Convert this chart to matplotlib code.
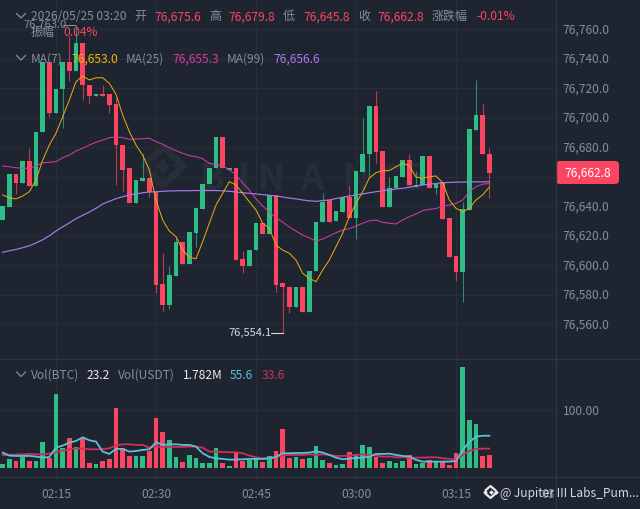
import matplotlib
matplotlib.use('Agg')
import matplotlib.pyplot as plt
from matplotlib.lines import Line2D
from matplotlib.patches import FancyBboxPatch

plt.rcParams['font.family'] = ['Noto Sans CJK SC', 'DejaVu Sans']

opens = [76630.6, 76639.6, 76661.8, 76655.9, 76670.6, 76653.7, 76690.3, 76737.9, 76703.4, 76719.5,
         76737.9, 76731.7, 76750.8, 76722.2, 76714.8, 76716.1, 76716.1, 76709.3, 76681.7, 76665.7,
         76642.1, 76656.9, 76659.1, 76649.8, 76587.1, 76572.8, 76592.5, 76615.6, 76600.9, 76622.0,
         76638.0, 76655.0, 76665.7, 76686.7, 76664.5, 76665.9, 76604.3, 76599.3, 76610.0, 76628.5,
         76621.1, 76647.5, 76587.8, 76585.3, 76571.3, 76584.9, 76568.1, 76596.0, 76629.0, 76643.9,
         76629.9, 76636.2, 76646.4, 76632.0, 76663.4, 76675.4, 76708.2, 76677.4, 76639.6, 76652.0,
         76660.0, 76671.3, 76653.2, 76654.4, 76674.2, 76652.1, 76656.6, 76631.7, 76606.1, 76595.5,
         76637.3, 76691.7, 76701.9, 76675.6]
highs = [76640.3, 76661.8, 76661.8, 76670.6, 76679.5, 76690.3, 76737.9, 76737.9, 76719.5, 76737.9,
         76755.5, 76763.0, 76750.8, 76722.2, 76716.1, 76722.2, 76716.1, 76714.1, 76681.7, 76665.7,
         76657.7, 76675.4, 76659.1, 76649.8, 76608.2, 76599.3, 76618.3, 76615.6, 76622.4, 76638.7,
         76655.0, 76665.7, 76686.7, 76686.7, 76665.9, 76665.9, 76609.5, 76610.2, 76628.5, 76628.5,
         76647.5, 76647.5, 76588.7, 76585.3, 76584.9, 76584.9, 76596.1, 76629.4, 76648.9, 76643.9,
         76636.9, 76646.0, 76653.7, 76663.8, 76699.6, 76708.2, 76718.4, 76677.4, 76659.8, 76660.4,
         76671.3, 76675.4, 76663.9, 76674.2, 76674.2, 76655.0, 76656.6, 76631.7, 76606.1, 76643.0,
         76692.4, 76725.6, 76709.1, 76679.8]
lows = [76630.6, 76639.6, 76648.2, 76655.9, 76653.7, 76653.7, 76690.3, 76700.5, 76703.4, 76693.2,
        76725.0, 76731.7, 76712.1, 76710.0, 76714.8, 76714.8, 76703.2, 76654.3, 76650.5, 76642.3,
        76642.1, 76656.9, 76646.2, 76581.2, 76569.0, 76570.1, 76592.5, 76600.9, 76600.9, 76612.4,
        76638.0, 76655.0, 76665.7, 76665.9, 76664.5, 76603.4, 76594.8, 76599.3, 76610.0, 76621.1,
        76621.1, 76581.9, 76554.1, 76567.6, 76571.3, 76568.1, 76568.1, 76596.0, 76629.0, 76629.5,
        76629.9, 76636.2, 76631.9, 76617.7, 76663.4, 76660.0, 76669.3, 76639.6, 76639.6, 76652.0,
        76660.0, 76654.3, 76653.2, 76654.4, 76652.1, 76648.2, 76631.0, 76605.2, 76589.3, 76575.1,
        76637.3, 76691.7, 76675.4, 76645.8]
closes = [76640.3, 76661.8, 76655.9, 76670.6, 76653.7, 76690.3, 76737.9, 76703.4, 76719.5, 76737.9,
          76731.7, 76750.8, 76722.2, 76714.8, 76716.1, 76714.8, 76708.7, 76681.3, 76664.5, 76642.3,
          76657.7, 76659.1, 76649.8, 76586.4, 76572.8, 76593.0, 76615.6, 76600.9, 76622.4, 76638.7,
          76655.0, 76665.7, 76686.7, 76665.9, 76665.9, 76603.4, 76599.3, 76610.2, 76628.5, 76621.1,
          76647.5, 76586.4, 76584.9, 76571.3, 76584.9, 76568.1, 76596.1, 76629.4, 76643.0, 76629.5,
          76636.9, 76646.0, 76631.9, 76663.8, 76675.4, 76708.2, 76676.9, 76639.6, 76652.5, 76660.4,
          76671.3, 76654.3, 76654.4, 76674.2, 76652.1, 76655.0, 76631.0, 76605.2, 76595.5, 76637.8,
          76692.4, 76701.9, 76675.4, 76662.8]

ma7 = [76647.6, 76645.7, 76644.9, 76646.9, 76649.8, 76657.8, 76671.3, 76681.5, 76689.5, 76700.7,
       76712.1, 76724.5, 76728.4, 76725.7, 76727.2, 76727.2, 76723.4, 76716.0, 76701.9, 76690.6,
       76681.5, 76674.7, 76664.6, 76644.2, 76630.6, 76623.1, 76619.3, 76610.2, 76605.3, 76604.3,
       76615.9, 76628.4, 76640.8, 76648.7, 76656.6, 76654.4, 76648.7, 76643.0, 76637.4, 76628.4,
       76625.0, 76613.6, 76610.2, 76608.0, 76603.4, 76594.4, 76591.0, 76588.7, 76596.6, 76603.4,
       76612.5, 76621.6, 76632.8, 76641.9, 76649.8, 76659.1, 76662.7, 76664.1, 76664.1, 76666.8,
       76669.1, 76667.5, 76659.8, 76658.9, 76660.0, 76660.5, 76655.9, 76644.2, 76638.5, 76636.2,
       76638.5, 76644.2, 76647.6, 76653.0]
ma25 = [76667.3, 76666.8, 76666.1, 76665.7, 76665.7, 76667.3, 76669.5, 76669.8, 76670.2, 76672.9,
        76674.7, 76677.5, 76679.3, 76681.5, 76683.4, 76684.9, 76686.5, 76687.0, 76686.5, 76685.4,
        76685.6, 76685.8, 76686.1, 76683.8, 76682.0, 76679.7, 76677.7, 76675.9, 76674.3, 76673.6,
        76672.2, 76669.1, 76668.4, 76667.5, 76664.6, 76661.2, 76655.7, 76651.0, 76644.9, 76640.1,
        76636.0, 76632.0, 76629.2, 76625.8, 76623.1, 76620.4, 76618.4, 76616.3, 76617.7, 76619.7,
        76622.0, 76623.8, 76624.7, 76626.5, 76628.4, 76630.1, 76630.6, 76629.0, 76628.4, 76627.9,
        76630.6, 76632.8, 76634.7, 76636.9, 76637.9, 76638.3, 76640.1, 76640.8, 76641.9, 76644.2,
        76649.8, 76653.2, 76655.0, 76655.3]
ma99 = [76608.7, 76609.7, 76610.6, 76611.8, 76613.1, 76615.0, 76617.2, 76619.9, 76623.1, 76626.0,
        76628.6, 76631.5, 76633.8, 76636.0, 76638.5, 76641.5, 76643.3, 76645.1, 76646.4, 76647.6,
        76648.3, 76649.1, 76649.6, 76649.8, 76650.1, 76650.3, 76650.4, 76650.5, 76650.5, 76650.6,
        76650.6, 76650.6, 76650.6, 76650.4, 76650.1, 76649.6, 76649.1, 76648.7, 76648.3, 76647.8,
        76647.4, 76646.9, 76646.2, 76645.5, 76644.9, 76644.2, 76643.6, 76643.3, 76643.8, 76644.2,
        76645.2, 76646.0, 76646.9, 76647.6, 76648.3, 76649.1, 76649.8, 76650.5, 76651.0, 76651.7,
        76652.1, 76652.9, 76653.7, 76654.4, 76654.9, 76655.4, 76655.9, 76656.1, 76656.3, 76656.4,
        76656.4, 76656.5, 76656.5, 76656.6]

volumes = [7.4, 16.0, 12.5, 20.0, 12.5, 13.1, 45.6, 18.2, 126.5, 34.2,
           51.9, 37.0, 51.3, 8.6, 7.4, 12.5, 16.0, 103.2, 35.3, 21.0,
           21.0, 21.0, 29.6, 86.0, 62.7, 49.0, 20.0, 10.3, 22.2, 17.7,
           9.7, 8.6, 34.2, 9.7, 3.4, 27.4, 12.5, 14.3, 16.0, 11.4,
           21.0, 29.6, 67.3, 18.2, 20.0, 15.4, 18.2, 38.2, 14.3, 8.6,
           5.7, 7.4, 27.4, 23.9, 39.9, 36.5, 20.0, 9.7, 13.1, 9.1,
           12.0, 22.8, 7.4, 9.1, 13.7, 11.4, 10.3, 5.7, 26.8, 172.7,
           82.7, 75.8, 21.7, 23.2]
vol_ma_fast = [26.8, 21.7, 21.1, 21.1, 21.1, 20.0, 18.2, 19.4, 35.3, 38.8,
               43.9, 46.7, 53.0, 47.9, 45.6, 28.5, 24.5, 33.1, 33.1, 28.5,
               29.6, 31.4, 32.5, 44.5, 39.9, 41.0, 41.0, 39.9, 39.9, 37.0,
               25.7, 19.4, 17.1, 16.0, 14.8, 14.8, 15.4, 16.0, 16.0, 16.0,
               17.1, 19.4, 25.7, 25.7, 26.2, 26.2, 26.8, 29.1, 26.8, 22.8,
               18.2, 15.4, 16.5, 17.7, 18.2, 20.0, 24.5, 24.5, 25.1, 22.8,
               21.1, 20.0, 14.3, 11.4, 11.4, 11.4, 11.4, 11.4, 12.5, 31.4,
               44.5, 54.2, 55.6, 55.6]
vol_ma_slow = [22.8, 22.8, 23.4, 23.9, 24.5, 23.9, 23.9, 25.1, 27.4, 30.2,
               32.5, 34.2, 33.6, 32.5, 32.5, 32.5, 34.2, 38.8, 41.0, 41.0,
               39.9, 39.9, 35.3, 37.0, 36.5, 36.5, 36.5, 36.5, 37.0, 37.0,
               35.3, 28.5, 28.5, 27.9, 27.4, 27.4, 25.7, 21.7, 18.8, 17.1,
               17.1, 18.8, 21.7, 22.8, 22.8, 22.8, 23.9, 22.8, 23.9, 22.8,
               21.1, 21.1, 21.7, 22.8, 23.9, 22.8, 21.7, 20.0, 20.0, 18.8,
               18.8, 18.2, 18.2, 18.2, 18.8, 18.8, 17.1, 16.0, 14.3, 22.8,
               29.6, 33.1, 33.6, 33.6]

price_ticks = [76560, 76580, 76600, 76620, 76640, 76680, 76700, 76720, 76740, 76760]
grid_prices = [76560, 76580, 76600, 76620, 76640, 76660, 76680, 76700, 76720, 76740, 76760]
time_pos = [8, 23, 38, 53, 68, 83]
time_labels = ['02:15', '02:30', '02:45', '03:00', '03:15', '03:30']
last_price = 76662.8

BG = '#1f2530'
GRID = '#272e39'
SEP = '#2e3641'
GRAY = '#848e9c'
RED = '#fb4561'
GREEN = '#2ebd85'
MARK = '#272e3a'
W, H = 640, 509


def px_axes(x0, y0, x1, y1):
    a = fig.add_axes([x0 / W, 1 - y1 / H, (x1 - x0) / W, (y1 - y0) / H])
    a.set_facecolor(BG)
    for s in a.spines.values():
        s.set_visible(False)
    a.tick_params(left=False, bottom=False, labelleft=False, labelbottom=False)
    a.set_xlim(-0.4, 82.85)
    return a


def label(x, y, s, color=GRAY, size=8.64, **kw):
    return fig.text(x / W, 1 - (y + 0.7) / H, s, color=color, fontsize=size, va='center', **kw)


def chevron(x, y):
    fig.add_artist(Line2D([x / W, (x + 4.5) / W, (x + 9) / W],
                          [1 - (y - 2.5) / H, 1 - (y + 2) / H, 1 - (y - 2.5) / H],
                          color=GRAY, lw=0.9))


def logo(cx, cy, r, color, lw, target, zorder):
    # the binance mark: centre and side diamonds, chevrons above and below
    def fx(v):
        return (cx + v * r) / W

    def fy(v):
        return 1 - (cy + v * r) / H

    kw = dict(transform=fig.transFigure, color=color, zorder=zorder, clip_on=False)
    for dx in (-1, 0, 1):
        target.add_artist(Line2D([fx(dx * 0.85)], [fy(0)], marker='D', ms=lw * 1.5, mew=0, ls='none', **kw))
    for s in (-1, 1):
        target.add_artist(Line2D([fx(-0.72), fx(0), fx(0.72)],
                                 [fy(s * 0.3), fy(s * 0.92), fy(s * 0.3)], lw=lw, **kw))


fig = plt.figure(figsize=(W / 100, H / 100), dpi=100, facecolor=BG)

ax = px_axes(0, 0, 555, 358)
ax.set_ylim(76780 - 0.6791 * 358, 76780)
ax_vol = px_axes(0, 358, 555, 477)
ax_vol.set_ylim(-14.9, 188.5)
ax_time = px_axes(0, 477, 555, 509)
ax_time.set_ylim(0, 1)

for a in (ax, ax_vol):
    for t in time_pos:
        a.axvline(t, color=GRID, lw=1, zorder=0)
for p in grid_prices:
    ax.axhline(p, color=GRID, lw=1, zorder=0)
ax_vol.axhline(100, color=GRID, lw=1, zorder=0)

# watermark, letters are spaced wide in the original
for x, s in [(200, 'B'), (238, 'I'), (258, 'N'), (300, 'A'), (343, 'N'), (378, 'C'), (403, 'E')]:
    ax.text(x / W, 1 - 180 / H, s, color=MARK, fontsize=26, fontweight='bold', va='center',
            transform=fig.transFigure, zorder=1)
logo(163, 166, 20, MARK, 5.0, ax, 1)

xs = list(range(len(opens)))
colors = [GREEN if c >= o else RED for o, c in zip(opens, closes)]

ax.vlines(xs, lows, highs, colors=colors, lw=0.8, alpha=0.7, zorder=2)
ax.bar(xs, [abs(c - o) for o, c in zip(opens, closes)],
       bottom=[min(o, c) for o, c in zip(opens, closes)],
       width=0.7, color=colors, lw=0, zorder=3)

ax.plot(xs, ma99, color='#a77be8', lw=0.85, zorder=4)
ax.plot(xs, ma25, color='#d63ba8', lw=0.72, zorder=5)
ax.plot(xs, ma7, color='#e8ac0b', lw=0.72, zorder=6)

# high and low markers
ax.annotate('76,763.0', xy=(11, 76763.0), xytext=(-53, 0), textcoords='offset pixels',
            color=GRAY, fontsize=8.0, va='center', ha='left', zorder=7)
ax.plot([9.0, 10.8], [76763.0, 76763.0], color=GRAY, lw=0.8, zorder=7)
ax.annotate('76,554.1', xy=(42, 76554.1), xytext=(-54, 0), textcoords='offset pixels',
            color='#d5d9df', fontsize=8.0, va='center', ha='left', zorder=7)
ax.plot([40.2, 42], [76554.1, 76554.1], color='#d5d9df', lw=0.8, zorder=7)

ax_vol.bar(xs, volumes, width=0.7, color=colors, lw=0, zorder=2)
ax_vol.plot(xs, vol_ma_slow, color='#c9305c', lw=1.3, zorder=3)
ax_vol.plot(xs, vol_ma_fast, color='#5cc0d8', lw=1.3, zorder=4)

for t, s in zip(time_pos, time_labels):
    ax_time.text(t, 0.44, s, color=GRAY, fontsize=8.64, ha='center', va='center', clip_on=True)

# separators
fig.add_artist(Line2D([555.5 / W, 555.5 / W], [0, 1], color=SEP, lw=1))
for y in (358.5, 476.5):
    fig.add_artist(Line2D([0, 1], [1 - y / H, 1 - y / H], color=SEP, lw=1))

# right axis
for p in price_ticks:
    y = (76780 - p) / 0.6791
    label(562.7, y, f'{p:,.1f}')
label(562.7, 410.5, '100.00')

tag = FancyBboxPatch((556 / W, 1 - 184 / H), 63 / W, 23 / H, transform=fig.transFigure,
                     boxstyle='round,pad=0,rounding_size=0.006', mutation_aspect=W / H,
                     fc=RED, ec='none')
fig.add_artist(tag)
label(587.5, 172.8, f'{last_price:,.1f}', color='#ffffff', ha='center')

# legend rows
chevron(16.5, 16)
label(31, 16, '2026/05/25 03:20')
for x, s in [(134, '开'), (209, '高'), (283, '低'), (358, '收'), (432, '涨跌幅')]:
    label(x, 16, s)
for x, s in [(154.5, '76,675.6'), (228.5, '76,679.8'), (303.5, '76,645.8'), (377.5, '76,662.8'), (476.5, '-0.01%')]:
    label(x, 16, s, color=RED)
label(31, 32, '振幅')
label(63, 32, '0.04%', color=RED)

chevron(16.5, 58)
label(31, 58, 'MA(7)')
label(71, 58, '76,653.0', color='#f0b90b')
label(126, 58, 'MA(25)')
label(172, 58, '76,655.3', color='#d63ba8')
label(227, 58, 'MA(99)')
label(273, 58, '76,656.6', color='#a77be8')

chevron(16.5, 374.5)
label(31, 374.5, 'Vol(BTC)')
label(87, 374.5, '23.2', color='#eaecef')
label(118, 374.5, 'Vol(USDT)')
label(183, 374.5, '1.782M', color='#eaecef')
label(230, 374.5, '55.6', color='#5cc0d8')
label(262, 374.5, '33.6', color='#c9305c')

# share badge
logo(490.5, 492, 6.5, '#eaecef', 1.6, fig, 10)
label(500.5, 492.5, '@ Jupiter III Labs_Pum...', color='#d5d9df', size=8.64, zorder=10)

fig.savefig('out.png', dpi=100, facecolor=BG)
